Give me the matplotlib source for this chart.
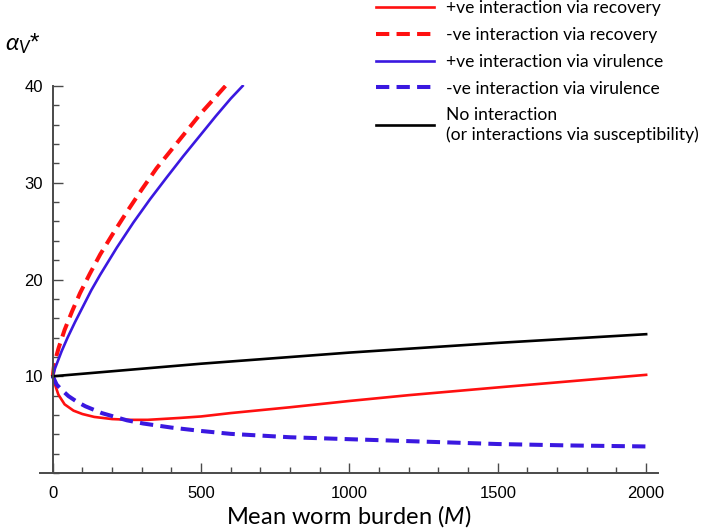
import numpy as np
import matplotlib.pyplot as plt
from matplotlib.ticker import MultipleLocator

plt.rcParams['font.family'] = ['Liberation Sans', 'DejaVu Sans']
plt.rcParams['mathtext.fontset'] = 'custom'
plt.rcParams['mathtext.rm'] = 'Lato'
plt.rcParams['mathtext.it'] = 'Lato:italic'

# Curves (mean worm burden M vs alpha_v*)
m_pos_rec = [0, 8, 19, 40, 70, 100, 140, 200, 260, 320, 430, 500, 600, 800, 1000, 1200, 1500, 1750, 2000]
a_pos_rec = [10, 9.1, 8.1, 7.1, 6.45, 6.1, 5.8, 5.58, 5.5, 5.5, 5.7, 5.85, 6.2, 6.8, 7.45, 8.05, 8.85, 9.5, 10.15]

m_neg_rec = [0, 5, 20, 40, 65, 92, 125, 160, 200, 250, 300, 350, 400, 450, 500, 550, 582]
a_neg_rec = [10, 11.3, 12.95, 14.8, 16.7, 18.6, 20.6, 22.6, 24.6, 27.0, 29.3, 31.5, 33.4, 35.3, 37.2, 38.9, 40]

m_pos_vir = [0, 8, 30, 50, 75, 100, 130, 160, 216, 272, 328, 384, 440, 497, 550, 600, 640]
a_pos_vir = [10, 10.85, 12.6, 14.0, 15.6, 17.1, 18.9, 20.5, 23.3, 25.9, 28.3, 30.55, 32.75, 34.9, 36.9, 38.7, 40]

m_neg_vir = [0, 13, 30, 53, 80, 110, 165, 250, 305, 400, 500, 600, 800, 1000, 1200, 1500, 1750, 2000]
a_neg_vir = [10, 9.15, 8.6, 7.95, 7.4, 6.9, 6.2, 5.45, 5.12, 4.7, 4.35, 4.05, 3.7, 3.5, 3.3, 3.0, 2.85, 2.75]

m_none = [0, 500, 1000, 1500, 2000]
a_none = [10, 11.3, 12.45, 13.45, 14.35]

labels = ['+ve interaction via recovery',
          '-ve interaction via recovery',
          '+ve interaction via virulence',
          '-ve interaction via virulence',
          'No interaction\n(or interactions via susceptibility)']

red = '#ff1010'
blue = '#3a18e0'

fig = plt.figure(figsize=(7.05, 5.31), dpi=100)
ax = fig.add_axes([40 / 705, 56 / 531, 618 / 705, 390 / 531])

ax.plot(m_pos_rec, a_pos_rec, color=red, lw=1.9, label=labels[0])
ax.plot(m_neg_rec, a_neg_rec, color=red, lw=2.9, dashes=(3.3, 1.8), label=labels[1])
ax.plot(m_pos_vir, a_pos_vir, color=blue, lw=1.9, label=labels[2])
ax.plot(m_neg_vir, a_neg_vir, color=blue, lw=2.9, dashes=(3.3, 1.8), label=labels[3])
ax.plot(m_none, a_none, color='black', lw=1.9, label=labels[4])

ax.set_xlim(-43, 2040)
ax.set_ylim(-0.2, 40.1)

for s in ['top', 'right']:
    ax.spines[s].set_visible(False)
for s in ['left', 'bottom']:
    ax.spines[s].set_color('#4a4a4a')
    ax.spines[s].set_linewidth(1.4)
ax.spines['left'].set_position(('data', 0))
ax.spines['bottom'].set_position(('data', 0))
ax.spines['left'].set_bounds(0, 40)

ax.xaxis.set_major_locator(MultipleLocator(500))
ax.xaxis.set_minor_locator(MultipleLocator(100))
ax.set_yticks([10, 20, 30, 40])
ax.yaxis.set_minor_locator(MultipleLocator(2))
ax.tick_params(which='both', direction='in', color='#4a4a4a', width=1.0, labelsize=12)
ax.tick_params(which='major', length=7)
ax.tick_params(which='minor', length=4)
ax.tick_params(axis='x', pad=9)
ax.tick_params(axis='y', pad=7)

ax.set_xlabel(r'Mean worm burden $\mathit{(M)}$', fontsize=17, family='Lato', labelpad=2)
fig.text(5 / 705, 1 - 44 / 531, r'$\alpha_V$*', fontsize=17.5, va='center', ha='left')

fig.legend(loc='upper left', bbox_to_anchor=(376 / 705, 1.0), frameon=False,
           prop={'family': 'Lato', 'size': 12.6}, handlelength=3.3,
           handletextpad=0.7, labelspacing=0.62, borderpad=0, borderaxespad=0)

fig.savefig('out.png', dpi=100)
